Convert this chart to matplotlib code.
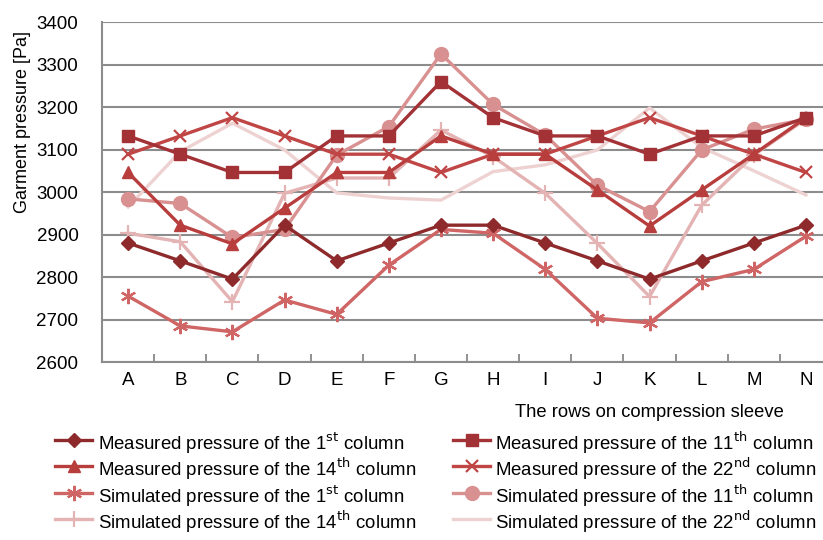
import numpy as np
import matplotlib.pyplot as plt
from matplotlib.lines import Line2D

plt.rcParams['font.family'] = ['Liberation Sans', 'DejaVu Sans']

rows = ['A', 'B', 'C', 'D', 'E', 'F', 'G', 'H', 'I', 'J', 'K', 'L', 'M', 'N']

measured_1 = [2880, 2838, 2795, 2922, 2838, 2880, 2922, 2922, 2880, 2838, 2795, 2838, 2880, 2922]
measured_11 = [3132, 3089, 3046, 3046, 3132, 3132, 3260, 3175, 3132, 3132, 3089, 3132, 3132, 3175]
measured_14 = [3046, 2922, 2878, 2962, 3046, 3046, 3132, 3089, 3089, 3005, 2920, 3005, 3089, 3175]
measured_22 = [3089, 3132, 3175, 3132, 3089, 3089, 3046, 3089, 3089, 3132, 3175, 3132, 3089, 3046]
simulated_1 = [2755, 2685, 2671, 2746, 2712, 2828, 2912, 2903, 2818, 2703, 2692, 2789, 2818, 2896]
simulated_11 = [2984, 2973, 2893, 2912, 3087, 3154, 3325, 3206, 3134, 3016, 2954, 3099, 3148, 3171]
simulated_14 = [2903, 2883, 2742, 2997, 3033, 3033, 3146, 3083, 2997, 2879, 2754, 2969, 3087, 3172]
simulated_22 = [2965, 3095, 3162, 3099, 2998, 2986, 2981, 3048, 3064, 3099, 3198, 3105, 3050, 2993]

sup = lambda n, s: n + r'$^{\mathrm{' + s + '}}$'

# (values, label, colour, marker, marker size); first four go in the left legend column
series = [
    (measured_1, 'Measured pressure of the ' + sup('1', 'st') + ' column', '#8e2a2b', 'D', 7),
    (measured_14, 'Measured pressure of the ' + sup('14', 'th') + ' column', '#b83e3e', '^', 9),
    (simulated_1, 'Simulated pressure of the ' + sup('1', 'st') + ' column', '#cf6565', (6, 2, 0), 11),
    (simulated_14, 'Simulated pressure of the ' + sup('14', 'th') + ' column', '#e4b3b3', '+', 11),
    (measured_11, 'Measured pressure of the ' + sup('11', 'th') + ' column', '#a33236', 's', 9),
    (measured_22, 'Measured pressure of the ' + sup('22', 'nd') + ' column', '#c04646', 'x', 9),
    (simulated_11, 'Simulated pressure of the ' + sup('11', 'th') + ' column', '#d99090', 'o', 10),
    (simulated_22, 'Simulated pressure of the ' + sup('22', 'nd') + ' column', '#eed2d2', None, 0),
]

fig = plt.figure(figsize=(8.23, 5.4), dpi=100)
ax = fig.add_axes([0.124, 0.3296, 0.887, 0.6296])

x = np.arange(len(rows))


def style(marker, color, ms):
    return dict(color=color, lw=2.4, marker=marker, markersize=ms,
                markeredgewidth=1.6 if marker in ('x', '+', (6, 2, 0)) else 1,
                markerfacecolor=color, markeredgecolor=color, solid_joinstyle='round')


# draw back to front so the dark measured lines sit on top
for i in [7, 3, 6, 2, 5, 1, 4, 0]:
    vals, label, color, marker, ms = series[i]
    ax.plot(x, vals, **style(marker, color, ms))

ax.set_xlim(-0.5, len(rows) - 0.5)
ax.set_ylim(2600, 3400)
ax.set_yticks(np.arange(2600, 3401, 100))
ax.set_xticks(x)
ax.set_xticklabels(rows)
ax.set_xticks(np.arange(-0.5, len(rows), 1.0), minor=True)
ax.tick_params(axis='x', which='major', length=0, pad=7, labelsize=13.5)
ax.tick_params(axis='x', which='minor', length=6, width=1.3, color='#888888', direction='in')
ax.tick_params(axis='y', length=0, pad=17, labelsize=13.5)
ax.grid(axis='y', color='#8c8c8c', lw=1.5)
ax.set_axisbelow(True)
for side in ['top', 'right']:
    ax.spines[side].set_visible(False)
for side in ['left', 'bottom']:
    ax.spines[side].set_color('#8c8c8c')
    ax.spines[side].set_linewidth(1.5)

ax.set_ylabel('Garment pressure [Pa]', fontsize=13)
ax.yaxis.set_label_coords(-0.098, 0.705)

fig.text(0.626, 0.237, 'The rows on compression sleeve', fontsize=13.2, va='center')

# two-column key under the axes
col_x = [(55, 92, 98), (453, 490, 495)]
row_y = [440, 466, 493, 519]
W, H = 823.0, 540.0
for k, (vals, label, color, marker, ms) in enumerate(series):
    x0, x1, xt = col_x[k // 4]
    yy = 1 - row_y[k % 4] / H
    fig.add_artist(Line2D([x0 / W, (x0 + x1) / 2 / W, x1 / W], [yy, yy, yy],
                          transform=fig.transFigure, markevery=[1], **style(marker, color, ms)))
    fig.text(xt / W, yy, label, fontsize=13.4, va='center_baseline')

fig.savefig('out.png', dpi=100)
